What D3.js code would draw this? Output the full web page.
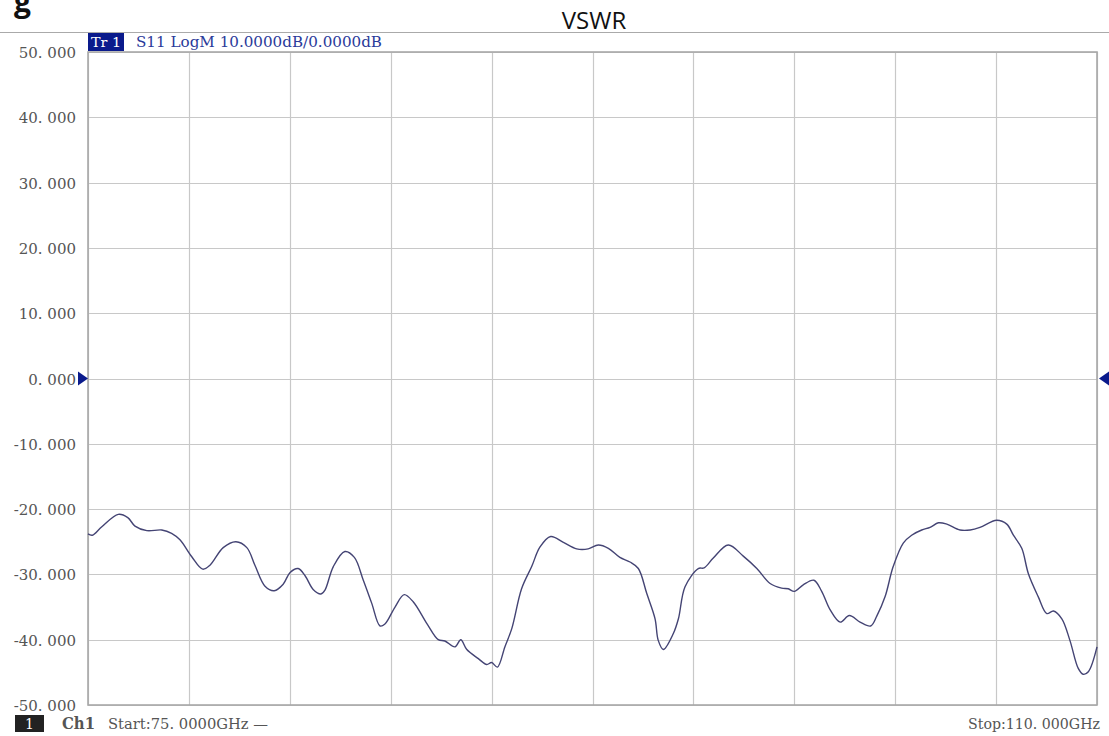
<!DOCTYPE html>
<html><head><meta charset="utf-8">
<script src="https://cdn.jsdelivr.net/npm/d3@7"></script>
<style>body{margin:0;background:#fff;overflow:hidden}</style>
</head><body>
<svg id="c" width="1109" height="736"></svg>
<script>
const title = "VSWR";
const traceHeader = "S11 LogM 10.0000dB/0.0000dB";
const yTicks = [50,40,30,20,10,0,-10,-20,-30,-40,-50];
const yTickLabels = ["50. 000","40. 000","30. 000","20. 000","10. 000","0. 000","-10. 000","-20. 000","-30. 000","-40. 000","-50. 000"];
const xDivisions = [75,78.5,82,85.5,89,92.5,96,99.5,103,106.5,110];
const startLabel = "Start:75. 0000GHz \u2014";
const stopLabel = "Stop:110. 000GHz";
const freqGHz = [75.0,75.15,75.48,76.05,76.38,76.63,77.04,77.56,77.90,78.19,78.60,78.98,79.23,79.69,80.13,80.51,80.79,81.14,81.46,81.77,82.01,82.29,82.53,82.81,83.08,83.22,83.51,83.91,84.24,84.55,84.84,85.13,85.30,85.65,85.97,86.28,86.75,87.15,87.38,87.73,87.93,88.14,88.54,88.83,89.00,89.20,89.46,89.70,90.04,90.39,90.68,91.05,91.49,91.95,92.35,92.70,93.05,93.45,93.80,94.09,94.38,94.67,94.78,94.96,95.30,95.48,95.71,96.17,96.37,96.69,97.21,97.73,98.20,98.66,99.06,99.29,99.50,99.81,100.18,100.45,100.74,101.09,101.41,101.78,102.15,102.36,102.65,102.93,103.28,103.57,103.92,104.21,104.50,104.79,105.25,105.60,105.94,106.52,106.87,107.10,107.39,107.62,107.96,108.26,108.49,108.78,109.06,109.35,109.52,109.70,110.0];
const s11dB = [-23.8,-24.0,-22.7,-20.8,-21.3,-22.6,-23.3,-23.2,-23.7,-24.7,-27.3,-29.2,-28.6,-25.9,-25.0,-25.9,-28.6,-31.8,-32.5,-31.5,-29.7,-29.1,-30.2,-32.3,-33.0,-32.4,-28.8,-26.5,-27.4,-30.9,-34.4,-37.9,-37.6,-35.0,-33.1,-34.2,-37.5,-40.0,-40.2,-41.1,-40.0,-41.5,-42.9,-43.8,-43.5,-44.2,-41.1,-38.3,-32.2,-28.8,-25.8,-24.2,-25.1,-26.1,-26.1,-25.5,-26.0,-27.4,-28.1,-29.1,-32.9,-36.8,-40.1,-41.5,-39.1,-36.8,-31.9,-29.1,-29.0,-27.5,-25.5,-27.2,-29.1,-31.4,-32.1,-32.2,-32.6,-31.6,-30.9,-32.6,-35.4,-37.3,-36.3,-37.3,-37.9,-36.4,-33.4,-28.8,-25.2,-24.0,-23.2,-22.8,-22.1,-22.3,-23.2,-23.2,-22.8,-21.7,-22.3,-24.0,-26.0,-29.9,-33.4,-36.0,-35.6,-36.8,-40.1,-44.4,-45.3,-44.9,-41.1];

const svg = d3.select("#c");
const L = 88, R = 1097, T = 52, B = 705;
const x = d3.scaleLinear().domain([75,110]).range([L,R]);
const y = d3.scaleLinear().domain([-50,50]).range([B,T]);
const serif = "DejaVu Serif, Liberation Serif, serif";

// cropped heading glyph at top-left (as in the reference image)
svg.append("text").attr("x",14).attr("y",12).attr("font-family","Open Sans, sans-serif")
  .attr("font-weight","bold").attr("font-size",30).attr("fill","#111").text("g");

// title
svg.append("text").attr("x",594).attr("y",29).attr("text-anchor","middle")
  .attr("font-family","Open Sans, sans-serif").attr("font-size",24).attr("fill","#111").text(title);

// top header line
svg.append("line").attr("x1",0).attr("x2",1109).attr("y1",32.5).attr("y2",32.5)
  .attr("stroke","#aaa").attr("stroke-width",1);

// grid
const g = svg.append("g");
g.selectAll(".hg").data(yTicks).join("line")
  .attr("x1",L).attr("x2",R).attr("y1",d=>Math.round(y(d))+0.5).attr("y2",d=>Math.round(y(d))+0.5)
  .attr("stroke","#c8c8c8").attr("stroke-width",1.2);
g.selectAll(".vg").data(xDivisions).join("line")
  .attr("y1",T).attr("y2",B).attr("x1",d=>Math.round(x(d))+0.5).attr("x2",d=>Math.round(x(d))+0.5)
  .attr("stroke","#c8c8c8").attr("stroke-width",1.2);
// frame
svg.append("rect").attr("x",L).attr("y",T).attr("width",R-L).attr("height",B-T)
  .attr("fill","none").attr("stroke","#a8a8a8").attr("stroke-width",1.6);

// y labels
svg.selectAll(".yl").data(yTicks).join("text")
  .attr("x",76).attr("y",d=>Math.min(y(d)+6,711)).attr("text-anchor","end")
  .attr("font-family",serif).attr("font-size",15).attr("fill","#555")
  .text((d,i)=>yTickLabels[i]);

// trace header
svg.append("rect").attr("x",88).attr("y",33).attr("width",36).attr("height",18).attr("fill","#0a1a8c");
svg.append("text").attr("x",91).attr("y",47).attr("font-family",serif).attr("font-size",13)
  .attr("fill","#fff").attr("textLength",30).attr("lengthAdjust","spacingAndGlyphs").text("Tr 1");
svg.append("text").attr("x",136).attr("y",47).attr("font-family",serif).attr("font-size",14)
  .attr("fill","#2a3a9a").attr("textLength",246).attr("lengthAdjust","spacingAndGlyphs").text(traceHeader);

// reference markers at 0 dB
svg.append("path").attr("d",`M${L-10},${y(0)-7}L${L},${y(0)}L${L-10},${y(0)+7}Z`).attr("fill","#0a1a8c");
svg.append("path").attr("d",`M${1109},${y(0)-7}L${1099},${y(0)}L${1109},${y(0)+7}Z`).attr("fill","#0a1a8c");

// trace
const pts = freqGHz.map((f,i)=>[f,s11dB[i]]);
svg.append("path").datum(pts)
  .attr("d",d3.line().x(d=>x(d[0])).y(d=>y(d[1])).curve(d3.curveCatmullRom.alpha(0.5)))
  .attr("fill","none").attr("stroke","#444474").attr("stroke-width",1.4);

// footer
svg.append("rect").attr("x",15).attr("y",715).attr("width",29).attr("height",17).attr("fill","#222");
svg.append("text").attr("x",29.5).attr("y",729).attr("text-anchor","middle").attr("font-family",serif)
  .attr("font-size",14).attr("fill","#fff").text("1");
svg.append("text").attr("x",62).attr("y",729).attr("font-family",serif).attr("font-size",16).attr("font-weight","bold")
  .attr("fill","#555").attr("textLength",33).attr("lengthAdjust","spacingAndGlyphs").text("Ch1");
svg.append("text").attr("x",108).attr("y",729).attr("font-family",serif).attr("font-size",15)
  .attr("fill","#555").attr("textLength",160).attr("lengthAdjust","spacingAndGlyphs").text(startLabel);
svg.append("text").attr("x",968).attr("y",729).attr("font-family",serif)
  .attr("font-size",15).attr("fill","#555").attr("textLength",132).attr("lengthAdjust","spacingAndGlyphs").text(stopLabel);
</script>
</body></html>
